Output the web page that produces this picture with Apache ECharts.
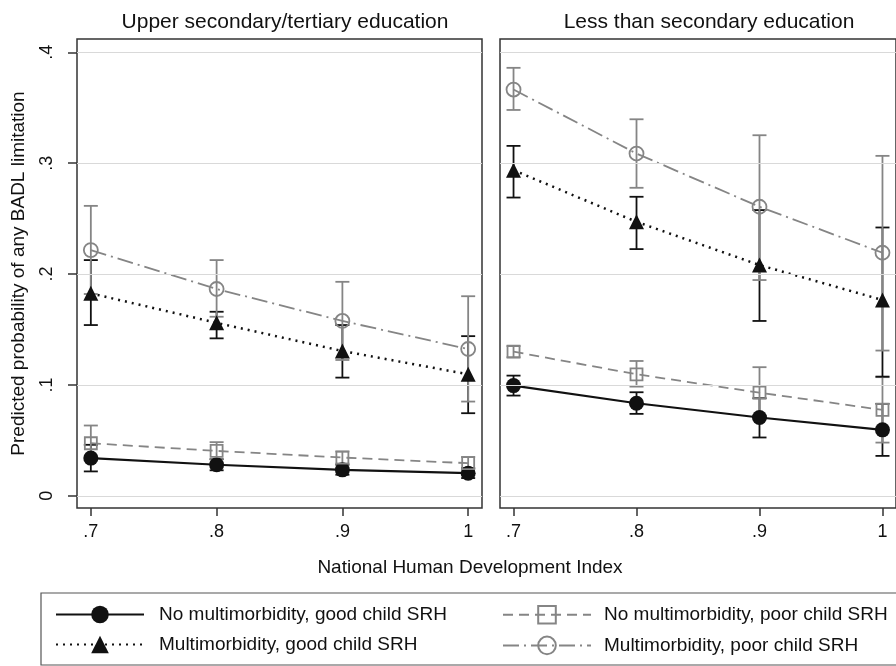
<!DOCTYPE html>
<html><head><meta charset="utf-8">
<script src="https://cdn.jsdelivr.net/npm/echarts@6/dist/echarts.min.js"></script>
<style>html,body{margin:0;padding:0;background:#fff}#c{width:896px;height:666px}</style>
</head><body><div id="c"></div>
<script>
const xVals = [0.7, 0.8, 0.9, 1.0];
const xLabels = ['.7', '.8', '.9', '1'];
const yTicks = [0, 0.1, 0.2, 0.3, 0.4];
const yLabels = ['0', '.1', '.2', '.3', '.4'];
const panelTitles = ['Upper secondary/tertiary education', 'Less than secondary education'];
const seriesNames = ['No multimorbidity, good child SRH', 'No multimorbidity, poor child SRH',
  'Multimorbidity, good child SRH', 'Multimorbidity, poor child SRH'];

// Upper secondary/tertiary
const noMMgoodL = [0.034, 0.028, 0.0234, 0.0204];
const noMMgoodL_lo = [0.022, 0.023, 0.019, 0.016];
const noMMgoodL_hi = [0.046, 0.033, 0.028, 0.025];
const noMMpoorL = [0.0474, 0.0405, 0.0345, 0.0294];
const noMMpoorL_lo = [0.032, 0.033, 0.029, 0.024];
const noMMpoorL_hi = [0.0634, 0.0484, 0.040, 0.035];
const MMgoodL = [0.1826, 0.156, 0.1306, 0.1096];
const MMgoodL_lo = [0.154, 0.142, 0.1066, 0.0745];
const MMgoodL_hi = [0.2126, 0.166, 0.154, 0.144];
const MMpoorL = [0.2216, 0.1865, 0.1577, 0.1324];
const MMpoorL_lo = [0.182, 0.1615, 0.1225, 0.085];
const MMpoorL_hi = [0.2615, 0.2126, 0.193, 0.180];

// Less than secondary
const noMMgoodR = [0.0994, 0.0835, 0.0706, 0.0595];
const noMMgoodR_lo = [0.0904, 0.0739, 0.0526, 0.036];
const noMMgoodR_hi = [0.1084, 0.0934, 0.088, 0.083];
const noMMpoorR = [0.130, 0.1096, 0.093, 0.0775];
const noMMpoorR_lo = [0.125, 0.0985, 0.072, 0.048];
const noMMpoorR_hi = [0.135, 0.1216, 0.116, 0.107];
const MMgoodR = [0.2937, 0.2471, 0.2081, 0.1766];
const MMgoodR_lo = [0.269, 0.2225, 0.1577, 0.1075];
const MMgoodR_hi = [0.3156, 0.2697, 0.2577, 0.242];
const MMpoorR = [0.3664, 0.3087, 0.2607, 0.2192];
const MMpoorR_lo = [0.348, 0.2778, 0.1946, 0.131];
const MMpoorR_hi = [0.386, 0.3396, 0.3252, 0.3066];

const BLACK = '#111111', GRAY = '#858585';
const FONT = 'Liberation Sans';

const styles = [
  {color: BLACK, line: 'solid', width: 2.2, symbol: 'circle', size: 15, filled: true},
  {color: GRAY, line: [10, 6], width: 1.8, symbol: 'rect', size: 12, filled: false},
  {color: BLACK, line: [2, 5], width: 2.5, symbol: 'triangle', size: 15, filled: true},
  {color: GRAY, line: [16, 5, 2, 5], width: 1.8, symbol: 'circle', size: 14, filled: false}
];

const panels = [
  {mean: [noMMgoodL, noMMpoorL, MMgoodL, MMpoorL],
   lo: [noMMgoodL_lo, noMMpoorL_lo, MMgoodL_lo, MMpoorL_lo],
   hi: [noMMgoodL_hi, noMMpoorL_hi, MMgoodL_hi, MMpoorL_hi]},
  {mean: [noMMgoodR, noMMpoorR, MMgoodR, MMpoorR],
   lo: [noMMgoodR_lo, noMMpoorR_lo, MMgoodR_lo, MMpoorR_lo],
   hi: [noMMgoodR_hi, noMMpoorR_hi, MMgoodR_hi, MMpoorR_hi]}
];

const series = [];
panels.forEach((p, pi) => {
  series.push({
    type: 'line', xAxisIndex: pi, yAxisIndex: pi, data: [], silent: true,
    markLine: {silent: true, symbol: 'none', label: {show: false}, animation: false,
      lineStyle: {color: '#d9d9d9', width: 1.2, type: 'solid'},
      data: yTicks.map(v => ({yAxis: v}))}
  });
  p.mean.forEach((m, si) => {
    const st = styles[si];
    series.push({
      type: 'custom', name: 'ci' + pi + si, xAxisIndex: pi, yAxisIndex: pi,
      data: xVals.map((x, i) => [x, p.lo[si][i], p.hi[si][i]]),
      encode: {x: 0, y: [1, 2]}, silent: true, z: 2,
      renderItem: function (params, api) {
        const x = api.value(0);
        const a = api.coord([x, api.value(1)]);
        const b = api.coord([x, api.value(2)]);
        const hw = 7;
        const ls = {stroke: st.color, lineWidth: 1.8};
        return {type: 'group', children: [
          {type: 'line', shape: {x1: a[0], y1: a[1], x2: b[0], y2: b[1]}, style: ls},
          {type: 'line', shape: {x1: a[0] - hw, y1: a[1], x2: a[0] + hw, y2: a[1]}, style: ls},
          {type: 'line', shape: {x1: b[0] - hw, y1: b[1], x2: b[0] + hw, y2: b[1]}, style: ls}
        ]};
      }
    });
  });
  p.mean.forEach((m, si) => {
    const st = styles[si];
    series.push({
      type: 'line', name: seriesNames[si], xAxisIndex: pi, yAxisIndex: pi,
      data: xVals.map((x, i) => [x, m[i]]),
      symbol: st.symbol, symbolSize: st.size, showSymbol: true, z: 3,
      lineStyle: {color: st.color, width: st.width, type: st.line},
      itemStyle: {color: st.filled ? st.color : 'rgba(255,255,255,0)', borderColor: st.color,
        borderWidth: st.filled ? 0 : 1.8, opacity: 1},
      emphasis: {disabled: true}, animation: false
    });
  });
});

const grids = [
  {left: 77, top: 39, width: 405, height: 469},
  {left: 500, top: 39, width: 405, height: 469}
].map(g => Object.assign(g, {show: true, borderColor: '#333', borderWidth: 1.5, containLabel: false}));

const xAxes = [0, 1].map(i => ({
  type: 'value', gridIndex: i, min: 0.689, max: 1.011,
  axisLine: {show: false, onZero: false},
  axisTick: {show: true, customValues: xVals, length: 8, lineStyle: {color: '#333', width: 1.5}},
  axisLabel: {show: true, customValues: xVals, formatter: v => xLabels[xVals.findIndex(t => Math.abs(t - v) < 1e-6)],
    fontFamily: FONT, fontSize: 18, color: '#111', margin: 15},
  splitLine: {show: false}
}));

const yAxes = [0, 1].map(i => ({
  type: 'value', gridIndex: i, min: -0.011, max: 0.412,
  axisLine: {show: false, onZero: false},
  axisTick: {show: i === 0, customValues: yTicks, length: 9, lineStyle: {color: '#333', width: 1.5}},
  axisLabel: {show: i === 0, customValues: yTicks, rotate: 90,
    formatter: v => yLabels[yTicks.findIndex(t => Math.abs(t - v) < 1e-6)],
    fontFamily: FONT, fontSize: 18, color: '#111', margin: 21},
  splitLine: {show: false},
  name: i === 0 ? 'Predicted probability of any BADL limitation' : '',
  nameLocation: 'middle', nameRotate: 90, nameGap: 49,
  nameTextStyle: {fontFamily: FONT, fontSize: 19, color: '#111'}
}));

const legendCommon = {
  orient: 'vertical', itemWidth: 88, itemHeight: 22, itemGap: 11, top: 600,
  selectedMode: false
};

const option = {
  backgroundColor: '#fff', animation: false,
  title: [
    {text: panelTitles[0], left: 280, top: 7, textAlign: 'center',
      textStyle: {fontFamily: FONT, fontSize: 21, fontWeight: 'normal', color: '#111'}},
    {text: panelTitles[1], left: 704, top: 7, textAlign: 'center',
      textStyle: {fontFamily: FONT, fontSize: 21, fontWeight: 'normal', color: '#111'}}
  ],
  grid: grids, xAxis: xAxes, yAxis: yAxes,
  legend: [
    Object.assign({}, legendCommon, {left: 50, data: [seriesNames[0], seriesNames[2]],
      textStyle: {fontFamily: FONT, fontSize: 19, color: '#111', padding: [0, 0, 0, 10]}}),
    Object.assign({}, legendCommon, {left: 497, data: [seriesNames[1], seriesNames[3]],
      textStyle: {fontFamily: FONT, fontSize: 19, color: '#111', padding: [0, 0, 0, 8]}})
  ],
  graphic: [
    {type: 'rect', shape: {x: 41, y: 593, width: 900, height: 72},
      style: {fill: 'none', stroke: '#555', lineWidth: 1.2}, silent: true},
    {type: 'text', x: 470, y: 568, style: {text: 'National Human Development Index', fontFamily: FONT,
      fontSize: 19, fill: '#111', textAlign: 'center', textVerticalAlign: 'middle'}, silent: true}
  ],
  series: series
};

const chart = echarts.init(document.getElementById('c'), null, {renderer: 'canvas'});
chart.setOption(option);
</script></body></html>
